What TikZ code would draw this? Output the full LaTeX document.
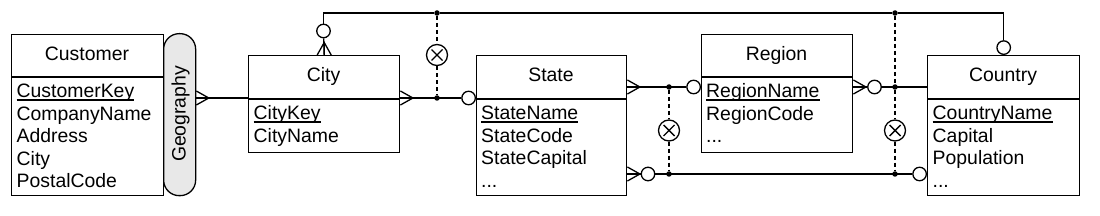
\documentclass[tikz,border=0pt]{standalone}
\usepackage{fontspec}
\setmainfont{Liberation Sans}
\begin{document}
\begin{tikzpicture}[x=1pt,y=-1pt,
  every node/.style={font=\fontsize{19.4}{22.5}\selectfont, inner sep=0pt},
  ent/.style={draw, line width=1.4pt, anchor=north west, fill=white},
  ln/.style={line width=1.35pt},
  dsh/.style={line width=1.3pt, dash pattern=on 4pt off 3pt},
  opt/.style={circle, draw, line width=1.3pt, fill=white, minimum size=13.5pt},
  dot/.style={circle, fill, minimum size=5.5pt},
  xorn/.style={circle, draw, line width=1.3pt, fill=white, minimum size=21pt,
    path picture={\draw[line width=1.4pt] (path picture bounding box.center)
      +(-5.5,-5.5) -- +(5.5,5.5) +(-5.5,5.5) -- +(5.5,-5.5);}},
  fld/.style={anchor=base west},
  hdr/.style={anchor=base},
  uline/.style={line width=1.1pt},
  crow/.pic={\draw[line width=1.3pt] (0,-7) -- (12.5,0) -- (0,7) (0,0) -- (12.5,0);}
]
\useasboundingbox (0,0) rectangle (1100,216);

% entities
\node[ent, minimum width=152pt, minimum height=161pt] (customer) at (11,34) {};
\node[draw, line width=1.3pt, rounded corners=15.5pt, minimum width=32pt,
      minimum height=162pt, anchor=north west, fill=black!9] (geo) at (163,33) {};
\node[ent, minimum width=151pt, minimum height=97pt] (city) at (248,55) {};
\node[ent, minimum width=150pt, minimum height=140pt] (state) at (476,55) {};
\node[ent, minimum width=151pt, minimum height=118pt] (region) at (701,34) {};
\node[ent, minimum width=152pt, minimum height=140pt] (country) at (927,55) {};

% dividers
\draw[line width=1.4pt] (customer.west |- 0,77) -- (customer.east |- 0,77);
\draw[line width=1.4pt] (city.west |- 0,99) -- (city.east |- 0,99);
\draw[line width=1.4pt] (state.west |- 0,99) -- (state.east |- 0,99);
\draw[line width=1.4pt] (region.west |- 0,77) -- (region.east |- 0,77);
\draw[line width=1.4pt] (country.west |- 0,99) -- (country.east |- 0,99);

% headers
\node[hdr] (customer-h) at (87,61) {Customer};
\node[rotate=90, anchor=base] (geo-t) at (185.5,114) {Geography};
\node[hdr] (city-h) at (323.5,82) {City};
\node[hdr] (state-h) at (551,82) {State};
\node[hdr] (region-h) at (776.5,61) {Region};
\node[hdr] (country-h) at (1003,82) {Country};

% fields
\node[fld] (cu1) at (16.5,98) {CustomerKey};
\node[fld] (cu2) at (16.5,120.5) {CompanyName};
\node[fld] (cu3) at (16.5,143) {Address};
\node[fld] (cu4) at (16.5,165.5) {City};
\node[fld] (cu5) at (16.5,188) {PostalCode};

\node[fld] (ci1) at (253.5,120) {CityKey};
\node[fld] (ci2) at (253.5,142.5) {CityName};

\node[fld] (st1) at (481,120) {StateName};
\node[fld] (st2) at (481,142.5) {StateCode};
\node[fld] (st3) at (481,165) {StateCapital};
\node[fld] (st4) at (481,187.5) {...};

\node[fld] (re1) at (706,98) {RegionName};
\node[fld] (re2) at (706,120.5) {RegionCode};
\node[fld] (re3) at (706,143) {...};

\node[fld] (co1) at (932.5,120) {CountryName};
\node[fld] (co2) at (932.5,142.5) {Capital};
\node[fld] (co3) at (932.5,165) {Population};
\node[fld] (co4) at (932.5,187.5) {...};

% underlines of keys
\foreach \k in {cu1,ci1,st1,re1,co1}
  \draw[uline] ([yshift=-2pt]\k.base west) -- ([yshift=-2pt]\k.base east);

% optional circles, dots, exclusion marks
\node[opt, anchor=east] (o1) at (state.west |- 0,98) {};
\node[opt] (o2) at (323.5,31) {};
\node[opt, anchor=south] (o3) at (country.north) {};
\node[opt, anchor=east] (o4) at (region.west |- 0,87) {};
\node[opt] (o5) at (648,174) {};
\node[opt, anchor=east] (o6) at (country.west |- 0,174) {};
\node[opt] (o7) at (874.5,87) {};

\node[dot] (dt1) at (437,13) {};
\node[dot] (dt2) at (895,13) {};
\node[dot] (d1) at (437,98) {};
\node[dot] (d2) at (669,87) {};
\node[dot] (d3) at (669,174) {};
\node[dot] (d4) at (895,174) {};
\node[dot] (d5) at (895,87) {};

\node[xorn] (x1) at (437,55) {};
\node[xorn] (x2) at (669,130.5) {};
\node[xorn] (x3) at (895,130.5) {};

% connectors
\draw[ln] (geo.east |- 0,98) -- (city.west |- 0,98);
\path (geo.east |- 0,98) pic {crow};

\draw[ln] (city.east |- 0,98) -- (o1);
\path (city.east |- 0,98) pic {crow};

\draw[ln] (city.north) -- (o2);
\path (city.north) pic[rotate=90] {crow};
\draw[ln] (o2.north) |- (dt1) -- (dt2) -| (o3.north);

\draw[ln] (state.east |- 0,87) -- (o4);
\path (state.east |- 0,87) pic {crow};

\draw[ln] (state.east |- 0,174) -- (o5) -- (o6);
\path (state.east |- 0,174) pic {crow};

\draw[ln] (region.east |- 0,87) -- (o7) -- (country.west |- 0,87);
\path (region.east |- 0,87) pic {crow};

\draw[dsh] (dt1) -- (x1) -- (d1);
\draw[dsh] (d2) -- (x2) -- (d3);
\draw[dsh] (dt2) -- (d5) -- (x3) -- (d4);
\end{tikzpicture}
\end{document}
